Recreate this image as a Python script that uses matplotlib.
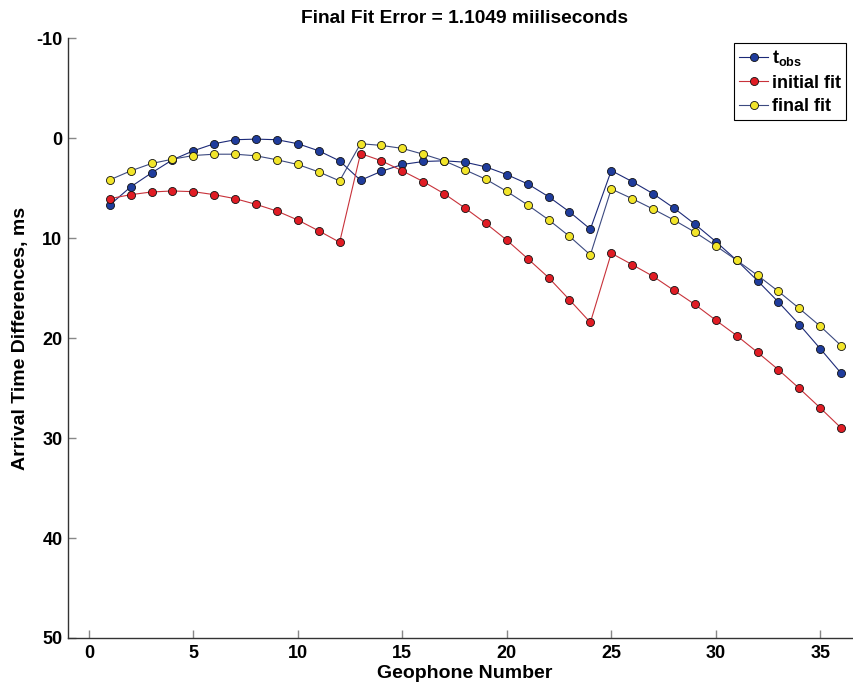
import matplotlib
matplotlib.use("Agg")
import matplotlib.pyplot as plt

plt.rcParams['font.family'] = ['Liberation Sans', 'DejaVu Sans']
plt.rcParams['mathtext.fontset'] = 'custom'
plt.rcParams['mathtext.rm'] = 'Liberation Sans:bold'
plt.rcParams['mathtext.bf'] = 'Liberation Sans:bold'
plt.rcParams['mathtext.it'] = 'Liberation Sans:bold'
plt.rcParams['axes.unicode_minus'] = False

geophone = list(range(1, 37))

t_obs = [6.66, 4.85, 3.45, 2.14, 1.24, 0.53, 0.13, 0.07, 0.13, 0.53, 1.24, 2.25,
         4.19, 3.29, 2.61, 2.31, 2.24, 2.38, 2.85, 3.62, 4.55, 5.83, 7.35, 9.08,
         3.22, 4.32, 5.53, 6.97, 8.58, 10.32, 12.19, 14.24, 16.38, 18.63, 21.04, 23.5]

initial_fit = [6.03, 5.63, 5.36, 5.26, 5.33, 5.63, 6.03, 6.6, 7.27, 8.17, 9.25, 10.39,
               1.51, 2.24, 3.25, 4.32, 5.53, 6.97, 8.51, 10.18, 12.03, 13.93, 16.15, 18.42,
               11.49, 12.63, 13.8, 15.21, 16.62, 18.19, 19.73, 21.41, 23.15, 25.02, 26.97, 28.98]

final_fit = [4.15, 3.25, 2.51, 2.08, 1.71, 1.58, 1.58, 1.74, 2.14, 2.61, 3.35, 4.25,
             0.53, 0.70, 1.0, 1.58, 2.24, 3.15, 4.09, 5.3, 6.66, 8.14, 9.8, 11.66,
             5.06, 6.03, 7.07, 8.17, 9.38, 10.75, 12.19, 13.7, 15.31, 17.02, 18.79, 20.74]

title = "Final Fit Error = 1.1049 miiliseconds"
xlabel = "Geophone Number"
ylabel = "Arrival Time Differences, ms"
xticks = [0, 5, 10, 15, 20, 25, 30, 35]
yticks = [-10, 0, 10, 20, 30, 40, 50]

W, H = 854, 687
fig = plt.figure(figsize=(W / 100, H / 100), dpi=100)
left, right = 68 / W, 862 / W
bottom, top = (H - 638) / H, (H - 38.5) / H
ax = fig.add_axes([left, bottom, right - left, top - bottom])

ms = 5.8
ax.plot(geophone, t_obs, '-o', color='#1c2a78', lw=0.8, ms=ms,
        markerfacecolor='#1f3c9c', markeredgecolor='#111111', markeredgewidth=0.6,
        label=r'$\mathbf{t_{obs}}$')
ax.plot(geophone, initial_fit, '-o', color='#c8323a', lw=0.8, ms=ms,
        markerfacecolor='#e01c24', markeredgecolor='#111111', markeredgewidth=0.6,
        label='initial fit')
ax.plot(geophone, final_fit, '-o', color='#3c4a80', lw=0.8, ms=ms,
        markerfacecolor='#f2e52a', markeredgecolor='#111111', markeredgewidth=0.6,
        label='final fit')

ax.set_xlim(-1, 37)
ax.set_ylim(50, -10)
ax.set_xticks(xticks)
ax.set_yticks(yticks)
ax.tick_params(direction='in', length=6, width=1.0, labelsize=13, color='#888888')
ax.tick_params(axis='x', pad=5)
ax.tick_params(axis='y', pad=4)
for lab in ax.get_xticklabels() + ax.get_yticklabels():
    lab.set_fontweight('bold')
ax.spines['top'].set_visible(False)
ax.spines['right'].set_visible(False)
for s in ('left', 'bottom'):
    ax.spines[s].set_linewidth(1.0)
    ax.spines[s].set_color('#333333')

ax.set_title(title, fontsize=13.8, fontweight='bold', pad=11)
ax.set_xlabel(xlabel, fontsize=14, fontweight='bold', labelpad=2)
ax.set_ylabel(ylabel, fontsize=14, fontweight='bold', labelpad=5)

leg = ax.legend(loc='upper right', bbox_to_anchor=(846 / W, 1 - 43 / H),
                bbox_transform=fig.transFigure, fancybox=False, framealpha=1,
                edgecolor='black', prop={'weight': 'bold', 'size': 13},
                handlelength=1.6, handletextpad=0.2, borderpad=0.3, labelspacing=0.35,
                borderaxespad=0)
leg.get_frame().set_linewidth(0.8)

fig.savefig('out.png', dpi=100)
